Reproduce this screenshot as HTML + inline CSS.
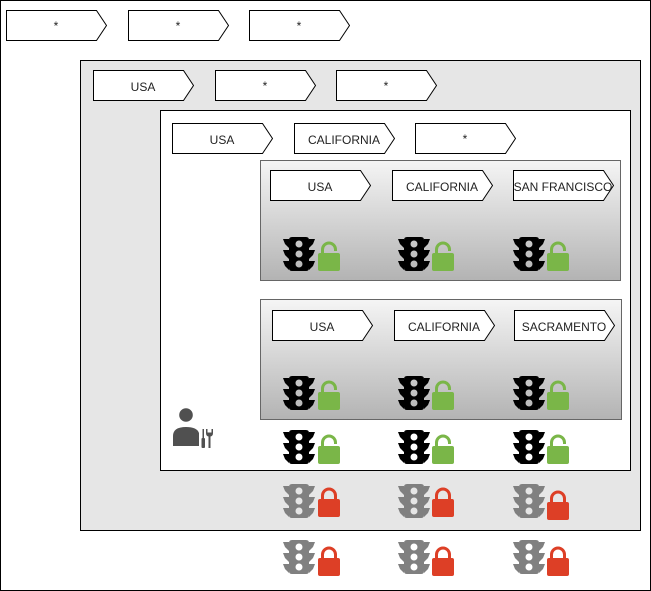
<!DOCTYPE html>
<html>
<head>
<meta charset="utf-8">
<style>
html,body{margin:0;padding:0;background:#fff;}
svg{display:block;}
text{font-family:"Liberation Sans",Arial,sans-serif;font-size:12px;fill:#222;}
</style>
</head>
<body>
<svg width="651" height="591" viewBox="0 0 651 591" xmlns="http://www.w3.org/2000/svg">
<defs>
  <linearGradient id="g" x1="0" y1="0" x2="0" y2="1">
    <stop offset="0" stop-color="#f5f5f5"/>
    <stop offset="1" stop-color="#b3b3b3"/>
  </linearGradient>
  <g id="tl">
    <path fill-rule="evenodd" d="M9,0 H23 Q26,0 26,3 V31 Q26,34 23,34 H9 Q6,34 6,31 V3 Q6,0 9,0 Z
      M12.5,7 a3.5,3.5 0 1 0 7,0 a3.5,3.5 0 1 0 -7,0 Z
      M12.5,17 a3.5,3.5 0 1 0 7,0 a3.5,3.5 0 1 0 -7,0 Z
      M12.5,27 a3.5,3.5 0 1 0 7,0 a3.5,3.5 0 1 0 -7,0 Z"/>
    <path d="M0,2 H6 V11 L2,7 Z M0,13 H6 V22 L2,18 Z M0,24 H6 V33 L2,29 Z
             M32,2 H26 V11 L30,7 Z M32,13 H26 V22 L30,18 Z M32,24 H26 V33 L30,29 Z"/>
  </g>
  <g id="lo">
    <rect x="0" y="12" width="22" height="18" rx="2" fill="#7ab648"/>
    <path d="M4.5,12.5 V8.5 A6.5,6.5 0 0 1 17.5,8.5 V10" fill="none" stroke="#7ab648" stroke-width="3"/>
  </g>
  <g id="lc">
    <rect x="0" y="12" width="22" height="18" rx="2" fill="#dd3f26"/>
    <path d="M4.5,13 V8.5 A6.5,6.5 0 0 1 17.5,8.5 V13" fill="none" stroke="#dd3f26" stroke-width="3"/>
  </g>
</defs>

<!-- outer frame -->
<rect x="0.5" y="0.5" width="650" height="590" fill="#fff" stroke="#000"/>
<!-- gray container -->
<rect x="80.5" y="60.5" width="560" height="470" fill="#e6e6e6" stroke="#000"/>
<!-- white inner -->
<rect x="160.5" y="110.5" width="470" height="360" fill="#fff" stroke="#000"/>
<!-- gradient boxes -->
<rect x="260.5" y="160.5" width="360" height="120" fill="url(#g)" stroke="#666"/>
<rect x="260.5" y="299.5" width="361" height="120" fill="url(#g)" stroke="#666"/>

<!-- step shapes -->
<g fill="#fff" stroke="#000" stroke-width="1">
  <path d="M6.5,10.5 H96.5 L106.5,25.5 L96.5,40.5 H6.5 Z"/>
  <path d="M128.5,10.5 H218.5 L228.5,25.5 L218.5,40.5 H128.5 Z"/>
  <path d="M249.5,10.5 H339.5 L349.5,25.5 L339.5,40.5 H249.5 Z"/>

  <path d="M93.5,70.5 H183.5 L193.5,85.5 L183.5,100.5 H93.5 Z"/>
  <path d="M215.5,70.5 H305.5 L315.5,85.5 L305.5,100.5 H215.5 Z"/>
  <path d="M336.5,70.5 H426.5 L436.5,85.5 L426.5,100.5 H336.5 Z"/>

  <path d="M172.5,123.5 H262.5 L272.5,138.5 L262.5,153.5 H172.5 Z"/>
  <path d="M294.5,123.5 H384.5 L394.5,138.5 L384.5,153.5 H294.5 Z"/>
  <path d="M415.5,123.5 H505.5 L515.5,138.5 L505.5,153.5 H415.5 Z"/>

  <path d="M270.5,170.5 H360.5 L370.5,185.5 L360.5,200.5 H270.5 Z"/>
  <path d="M392.5,170.5 H482.5 L492.5,185.5 L482.5,200.5 H392.5 Z"/>
  <path d="M513.5,170.5 H603.5 L613.5,185.5 L603.5,200.5 H513.5 Z"/>

  <path d="M272.5,310.5 H362.5 L372.5,325.5 L362.5,340.5 H272.5 Z"/>
  <path d="M394.5,310.5 H484.5 L494.5,325.5 L484.5,340.5 H394.5 Z"/>
  <path d="M514.5,310.5 H604.5 L614.5,325.5 L604.5,340.5 H514.5 Z"/>
</g>

<g text-anchor="middle">
  <text x="56" y="30">*</text>
  <text x="178" y="30">*</text>
  <text x="299" y="30">*</text>

  <text x="143" y="91">USA</text>
  <text x="265" y="90">*</text>
  <text x="386" y="90">*</text>

  <text x="222" y="144">USA</text>
  <text x="344" y="144">CALIFORNIA</text>
  <text x="465" y="143">*</text>

  <text x="320" y="191">USA</text>
  <text x="442" y="191">CALIFORNIA</text>
  <text x="563" y="191">SAN FRANCISCO</text>

  <text x="322" y="331">USA</text>
  <text x="444" y="331">CALIFORNIA</text>
  <text x="564" y="331">SACRAMENTO</text>
</g>

<!-- row 1 (box 1) -->
<use href="#tl" x="283" y="237" fill="#000"/>
<use href="#lo" x="318" y="241"/>
<use href="#tl" x="398" y="237" fill="#000"/>
<use href="#lo" x="432" y="241"/>
<use href="#tl" x="513" y="237" fill="#000"/>
<use href="#lo" x="547" y="241"/>

<!-- row 2 (box 2) -->
<use href="#tl" x="283" y="376" fill="#000"/>
<use href="#lo" x="318" y="380"/>
<use href="#tl" x="398" y="376" fill="#000"/>
<use href="#lo" x="432" y="380"/>
<use href="#tl" x="513" y="376" fill="#000"/>
<use href="#lo" x="547" y="380"/>

<!-- row 3 (white) -->
<use href="#tl" x="283" y="430" fill="#000"/>
<use href="#lo" x="318" y="434"/>
<use href="#tl" x="398" y="430" fill="#000"/>
<use href="#lo" x="432" y="434"/>
<use href="#tl" x="513" y="430" fill="#000"/>
<use href="#lo" x="547" y="434"/>

<!-- row 4 (gray) -->
<use href="#tl" x="283" y="484" fill="#808080"/>
<use href="#lc" x="318" y="487"/>
<use href="#tl" x="398" y="484" fill="#808080"/>
<use href="#lc" x="432" y="487"/>
<use href="#tl" x="513" y="484" fill="#808080"/>
<use href="#lc" x="547" y="490"/>

<!-- row 5 (outer) -->
<use href="#tl" x="283" y="540" fill="#808080"/>
<use href="#lc" x="318" y="546"/>
<use href="#tl" x="398" y="540" fill="#808080"/>
<use href="#lc" x="432" y="546"/>
<use href="#tl" x="513" y="540" fill="#808080"/>
<use href="#lc" x="547" y="546"/>

<!-- person with tools -->
<g fill="#505050">
  <circle cx="186" cy="415" r="6.8"/>
  <path d="M173,446 V436 Q173,427 186,427 Q197,427 199,433 V446 Z"/>
  <!-- screwdriver -->
  <rect x="202.5" y="429" width="1.5" height="9"/>
  <rect x="201.5" y="438" width="3.5" height="10" rx="1"/>
  <!-- wrench -->
  <path d="M206,429 V433 Q206,436 208.5,436.5 V448 H210.5 V436.5 Q213,436 213,433 V429 H211.5 V432.5 H207.5 V429 Z"/>
</g>
</svg>
</body>
</html>
